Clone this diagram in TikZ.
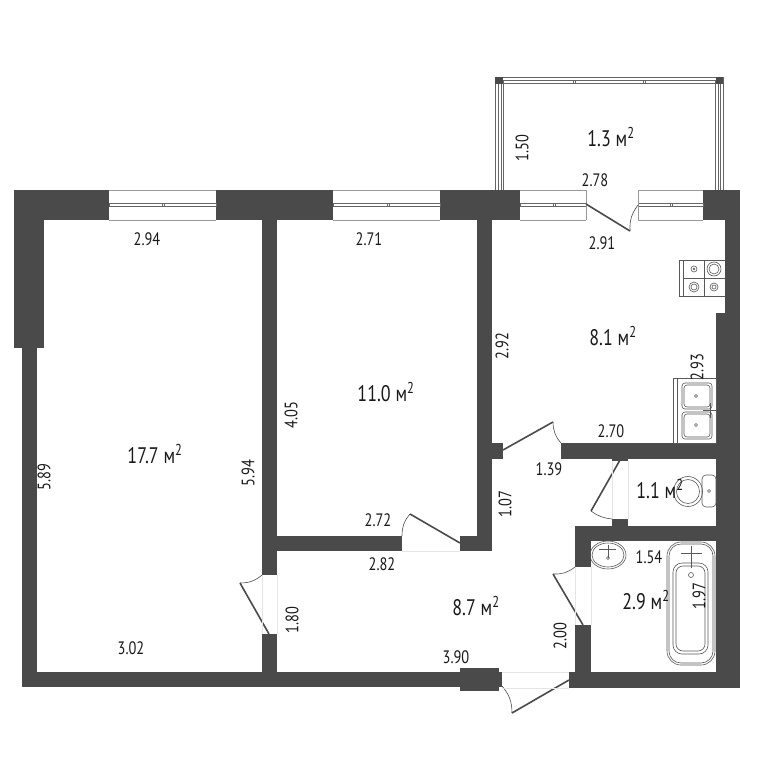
\documentclass[tikz,border=0pt]{standalone}
\usepackage{fontspec}
\setmainfont[FakeStretch=0.8]{PT Sans}
\usetikzlibrary{arrows}

\tikzset{
	dimlabel/.style={inner sep=0pt,text=black!90,font=\fontsize{18}{18}\selectfont},
	arealabel/.style={inner sep=0pt,text=black!90,font=\fontsize{22.5}{23}\selectfont},
	door/.style={line width=1.6pt,color=wallgray},
	swing/.style={line width=0.6pt,color=wallgray},
	fixture/.style={line width=0.6pt,color=black!65},
	glass/.style={line width=0.7pt,color=black!60}
}

\begin{document}
\begin{tikzpicture}[x=1pt,y=-1pt]

\definecolor{wallgray}{rgb}{0.29,0.29,0.29}

\useasboundingbox (0,0) rectangle (768,768);
\fill[white] (0,0) rectangle (768,768);

% walls
\foreach \xa/\ya/\xb/\yb in {14/190/109/220,216/190/333/220,440/190/520/220,703/190/740/220,
	14/220/44/348,22/348/37/687,22/672/460/687,460/668/499/691,499/672/502/687,569/672/740/688,
	262/220/277/575,262/634/277/672,277/536/402/551,460/536/492/551,477/220/492/551,492/443/503/459,
	725/220/740/313,716/313/740/672,561/443/716/459,612/459/628/461,612/519/628/526,
	575/526/716/541,575/526/591/567,575/625/591/672}{
	\fill[color=wallgray] (\xa,\ya) rectangle (\xb,\yb);
}

% windows
\foreach \xa/\xb/\xm in {109/216/162,333/440/387,520/586/553,638/703/670}{
	\draw[glass,color=black!40] (\xa,190)--(\xb,190) (\xa,220)--(\xb,220);
	\draw[glass] (\xa,203.5) rectangle (\xb,206.5);
	\draw[glass] (\xm,203.5)--(\xm,206.5) (\xm+2,203.5)--(\xm+2,206.5);
}
\draw[glass,color=black!40] (586,190)--(586,220) (638,190)--(638,220);

% balcony
\draw[glass] (495.5,190)--(495.5,77)--(723,77)--(723,190);
\foreach \x in {498,501,503}{
	\draw[glass] (\x,190)--(\x,80);
	\draw[glass] (\x+217,190)--(\x+217,80);
}
\draw[glass] (503,80)--(715,80) (503,83)--(715,83);
\foreach \x in {573,643}{
	\draw[glass] (\x,80)--(\x,83) (\x+2,80)--(\x+2,83);
}
\fill[color=wallgray] (495,77) rectangle (503,84);
\fill[color=wallgray] (716,77) rectangle (723,84);

% doors
\foreach \hx/\hy/\ex/\ey/\ax/\ay/\b in {586/204/630/231/638/205/20,503/450/553/422/561/443/-20,
	620/460/591/511/612/519/-15,460/543/410/514/402/536/-20,269/634/240/583/262/575/-20,
	583/625/553/574/575/567/-20,569/680/512/713/502/686/-20}{
	\draw[door] (\hx,\hy)--(\ex,\ey);
	\draw[swing] (\ex,\ey) to[bend left=\b] (\ax,\ay);
}
\draw[swing,color=black!10] (402,551)--(460,551) (262,575)--(262,634) (277,575)--(277,634);
\draw[swing,color=black!10] (575,567)--(575,625) (591,567)--(591,625) (502,672)--(569,672) (502,688)--(569,688);
\draw[swing,color=black!10] (612,461)--(612,519) (628,461)--(628,519);

% stove
\draw[fixture] (679,260)--(725,260) (679,296)--(725,296) (679,260)--(679,296) (683,260)--(683,296);
\draw[fixture] (704,260)--(704,296) (683,278)--(725,278);
\foreach \x/\y/\r in {694/269/3,714/269/7,694/287/5,714/287/4}{
	\draw[fixture] (\x,\y) circle (\r pt);
	\draw[fixture] (\x,\y) circle (\r pt-2pt);
}

% kitchen sink
\draw[fixture] (673,378) rectangle (716,443);
\draw[fixture] (677,378)--(677,443) (673,378)--(716,378);
\foreach \ya/\yb/\yc in {383/409/396,412/439/425}{
	\draw[fixture,rounded corners=3pt] (682,\ya) rectangle (712,\yb);
	\draw[fixture,rounded corners=3pt] (684,\ya+2) rectangle (710,\yb-2);
	\draw[fixture] (696,\yc) circle (1.5pt);
}
\draw[fixture] (710,403)--(710,418) (703,410.5)--(716,410.5);

% toilet
\draw[fixture,rounded corners=4pt] (702,475) rectangle (716,507);
\draw[fixture] (709,491) circle (1.5pt);
\draw[fixture] (688,491.5) ellipse (14.5pt and 15pt);
\draw[fixture] (688,491.5) ellipse (11.5pt and 12pt);

% washbasin
\draw[fixture] (608,555) ellipse (18pt and 14pt);
\draw[fixture] (608,555) ellipse (16pt and 12pt);
\draw[fixture,line width=1pt] (599,549)--(616,549) (608,545)--(608,558);
\draw[fixture] (608,558) circle (1.5pt);

% bath
\draw[fixture,rounded corners=14pt] (667,542) rectangle (715,665);
\draw[fixture,rounded corners=12pt] (669,544) rectangle (713,663);
\draw[fixture,rounded corners=9pt] (673,563) rectangle (708,654);
\draw[fixture,rounded corners=7pt] (676,566) rectangle (705,651);
\draw[fixture] (681,553)--(702,553) (691,546)--(691,568);
\draw[fixture] (691,575) circle (2.5pt);

% areas
\node[arealabel] (balconyarea) at (611,137) {1.3 м\textsuperscript{2}};
\node[arealabel] (kitchenarea) at (613,336) {8.1 м\textsuperscript{2}};
\node[arealabel] (bigroomarea) at (155,454) {17.7 м\textsuperscript{2}};
\node[arealabel] (roomarea) at (386,392) {11.0 м\textsuperscript{2}};
\node[arealabel] (wcarea) at (660,489) {1.1 м\textsuperscript{2}};
\node[arealabel] (batharea) at (646,600) {2.9 м\textsuperscript{2}};
\node[arealabel] (hallarea) at (476,606) {8.7 м\textsuperscript{2}};

% lengths
\node[dimlabel] (dimbalcony) at (595,180) {2.78};
\node[dimlabel] (dimkitchentop) at (602,243) {2.91};
\node[dimlabel] (dimbigroomtop) at (147,239) {2.94};
\node[dimlabel] (dimroomtop) at (369,239) {2.71};
\node[dimlabel] (dimkitchenlow) at (611,431) {2.70};
\node[dimlabel] (dimhallupper) at (549,469) {1.39};
\node[dimlabel] (dimbathtop) at (649,557) {1.54};
\node[dimlabel] (dimhalllow) at (456,657) {3.90};
\node[dimlabel] (dimroomlow) at (378,520) {2.72};
\node[dimlabel] (dimhalltop) at (382,564) {2.82};
\node[dimlabel] (dimbigroomlow) at (131,648) {3.02};

\node[dimlabel,rotate=90] (dimbalconyside) at (522,148) {1.50};
\node[dimlabel,rotate=90] (dimkitchenleft) at (502,346) {2.92};
\node[dimlabel,rotate=90] (dimkitchenright) at (697,367) {2.93};
\node[dimlabel,rotate=90] (dimhallside) at (505,504) {1.07};
\node[dimlabel,rotate=90] (dimbathside) at (699,596) {1.97};
\node[dimlabel,rotate=90] (dimhallright) at (560,636) {2.00};
\node[dimlabel,rotate=90] (dimhallleft) at (292,620) {1.80};
\node[dimlabel,rotate=90] (dimbigroomleft) at (44,477) {5.89};
\node[dimlabel,rotate=90] (dimbigroomright) at (248,473) {5.94};
\node[dimlabel,rotate=90] (dimroomleft) at (291,415) {4.05};

\end{tikzpicture}
\end{document}
